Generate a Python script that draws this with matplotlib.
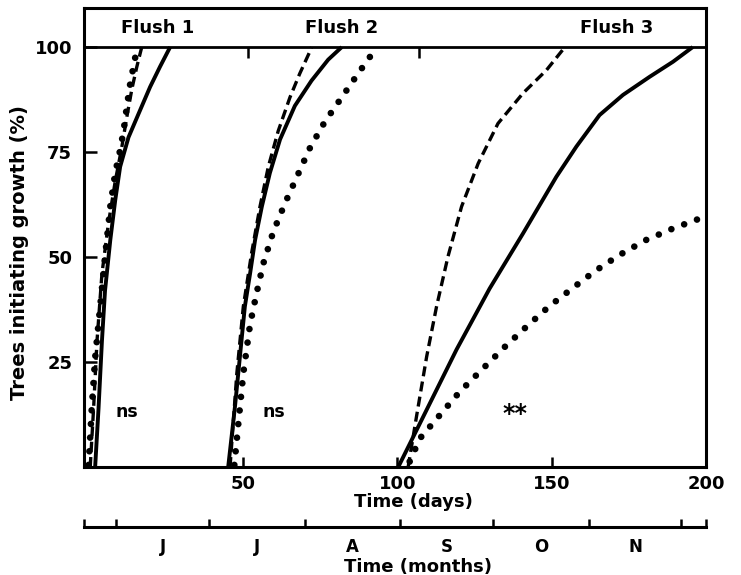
import numpy as np
import matplotlib
matplotlib.use('Agg')
import matplotlib.pyplot as plt

# Flush 1 (days, % trees)
f1_solid_x = [2.1, 3.2, 4.3, 5.3, 7.0, 8.6, 10.2, 12.9, 16.1, 19.9, 23.1, 26.4]
f1_solid_y = [0, 14, 30, 42, 54, 63.5, 71.5, 78.5, 84, 90.5, 95.3, 100]
f1_dash_x = [0.5, 1.6, 2.7, 4.3, 6.4, 8.6, 10.7, 12.4, 14.0, 15.6, 17.2]
f1_dash_y = [0, 14, 30, 46, 58, 68, 76, 83.5, 90, 95.3, 100]
f1_dot_x = [0, 1.0, 2.1, 3.7, 5.3, 7.0, 8.6, 10.2, 11.3, 12.4, 13.4, 14.5, 15.6]
f1_dot_y = [0.5, 14, 26, 38, 50, 62, 70, 75.5, 80, 86, 91, 95.3, 99.5]

# Flush 2
f2_solid_x = [45.2, 47.4, 49.0, 50.6, 52.3, 53.9, 56.1, 58.7, 62.0, 66.8, 72.2, 77.6, 82.0]
f2_solid_y = [0, 14.4, 26.3, 38.2, 46.1, 54, 62, 70, 78, 86, 92, 97, 100]
f2_dash_x = [45.8, 48.0, 50.1, 52.8, 55.5, 58.2, 61.4, 65.2, 68.4, 71.7, 72.2]
f2_dash_y = [0, 22.3, 38.2, 51, 62, 71.5, 80, 88, 93.7, 99, 100]
f2_dot_x = [47.2, 48.5, 50.1, 52.3, 54.4, 56.6, 59.8, 63.6, 67.4, 71.7, 76.5, 81.4, 87.3, 92.7]
f2_dot_y = [0.5, 10.4, 22.3, 34, 41.4, 48.5, 56, 62.8, 69, 76, 82.2, 87.4, 93.7, 99.3]

# Flush 3
f3_solid_x = [100.3, 108.4, 119.2, 129.9, 140.7, 151.5, 158.0, 165.5, 173.1, 181.7, 189.3, 195.7]
f3_solid_y = [0, 12, 28, 42.5, 55.6, 69.1, 76.3, 83.8, 88.6, 92.9, 96.5, 100]
f3_dash_x = [103.5, 106.2, 109.5, 112.7, 116.4, 120.8, 126.2, 132.6, 140.7, 148.3, 154.3]
f3_dash_y = [0, 12, 26.3, 38.2, 50.1, 62, 72.3, 81.8, 89, 94.5, 100]
f3_dot_x = [104, 107.3, 113.8, 120.2, 127.8, 134.8, 141.8, 149.1, 156.6, 164.1, 172.0, 180.4, 189.3, 198.1]
f3_dot_y = [1.3, 6.8, 12.4, 17.9, 23.5, 28.6, 33.4, 38.2, 42.5, 46.7, 50.5, 54.0, 56.8, 59.2]

flush_labels = ['Flush 1', 'Flush 2', 'Flush 3']
flush_label_x = [22.2, 82, 171]
sig_labels = ['ns', 'ns', '**']
sig_x = [12.5, 60, 138]

month_edges = [9, 39, 70, 101, 131, 162, 192]
month_labels = ['J', 'J', 'A', 'S', 'O', 'N']
top_tick_days = [51.5, 107]

XMIN, XMAX = -1.5, 200
plt.rcParams['font.family'] = 'DejaVu Sans'
plt.rcParams['font.weight'] = 'bold'

fig = plt.figure(figsize=(7.41, 5.75), dpi=100)
ax = fig.add_axes([0.1134, 0.1878, 0.8394, 0.7983])

solid = dict(color='black', lw=2.8, solid_capstyle='butt')
dashed = dict(color='black', lw=2.4, linestyle=(0, (3, 1.6)))
dotted = dict(color='black', lw=4.8, linestyle=(0, (0.001, 2.05)), dash_capstyle='round')

for sx, sy, dx, dy, ox, oy in [(f1_solid_x, f1_solid_y, f1_dash_x, f1_dash_y, f1_dot_x, f1_dot_y),
                               (f2_solid_x, f2_solid_y, f2_dash_x, f2_dash_y, f2_dot_x, f2_dot_y),
                               (f3_solid_x, f3_solid_y, f3_dash_x, f3_dash_y, f3_dot_x, f3_dot_y)]:
    ax.plot(sx, sy, **solid)
    ax.plot(dx, dy, **dashed)
    ax.plot(ox, oy, **dotted)

ax.axhline(100, color='black', lw=2.0)
ax.vlines(top_tick_days, 97.5, 100, color='black', lw=1.8)

for lab, x in zip(flush_labels, flush_label_x):
    ax.text(x, 104.6, lab, ha='center', va='center', fontsize=13, fontweight='bold')
for lab, x in zip(sig_labels, sig_x):
    big = lab == '**'
    ax.text(x, 12.6 if big else 13, lab, ha='center', va='center',
            fontsize=17 if big else 12.5, fontweight='bold')

ax.set_xlim(XMIN, XMAX)
ax.set_ylim(0, 109.3)
ax.set_xticks([50, 100, 150, 200])
ax.set_yticks([25, 50, 75, 100])
ax.tick_params(axis='x', direction='in', length=7, width=1.8, pad=6, labelsize=13)
ax.tick_params(axis='y', direction='in', length=9.5, width=1.8, pad=8.5, labelsize=13)
for sp in ax.spines.values():
    sp.set_linewidth(2.2)

ax.set_ylabel('Trees initiating growth (%)', fontsize=14, fontweight='bold')
ax.yaxis.set_label_coords(-0.088, 0.468)
ax.set_xlabel('Time (days)', fontsize=13, fontweight='bold')
ax.xaxis.set_label_coords(0.529, -0.056)

# months axis
ax2_h = 0.0001
ax2 = fig.add_axes([0.1134, 0.0835, 0.8394, ax2_h])
ax2.set_xlim(XMIN, XMAX)
ax2.set_yticks([])
for s in ['top', 'left', 'right']:
    ax2.spines[s].set_visible(False)
ax2.spines['bottom'].set_linewidth(2.2)
ax2.set_xticks([XMIN] + month_edges + [XMAX])
ax2.set_xticklabels([])
mids = [(a + b) / 2 for a, b in zip(month_edges[:-1], month_edges[1:])]
ax2.set_xticks(mids, minor=True)
ax2.set_xticklabels(month_labels, minor=True)
ax2.tick_params(axis='x', which='major', direction='in', length=6, width=1.8)
ax2.tick_params(axis='x', which='minor', length=0, pad=8, labelsize=12)
ax2.set_xlabel('Time (months)', fontsize=13, fontweight='bold')
ax2.xaxis.set_label_coords(0.537, -31 / (ax2_h * 575))

fig.savefig('out.png', dpi=100)
